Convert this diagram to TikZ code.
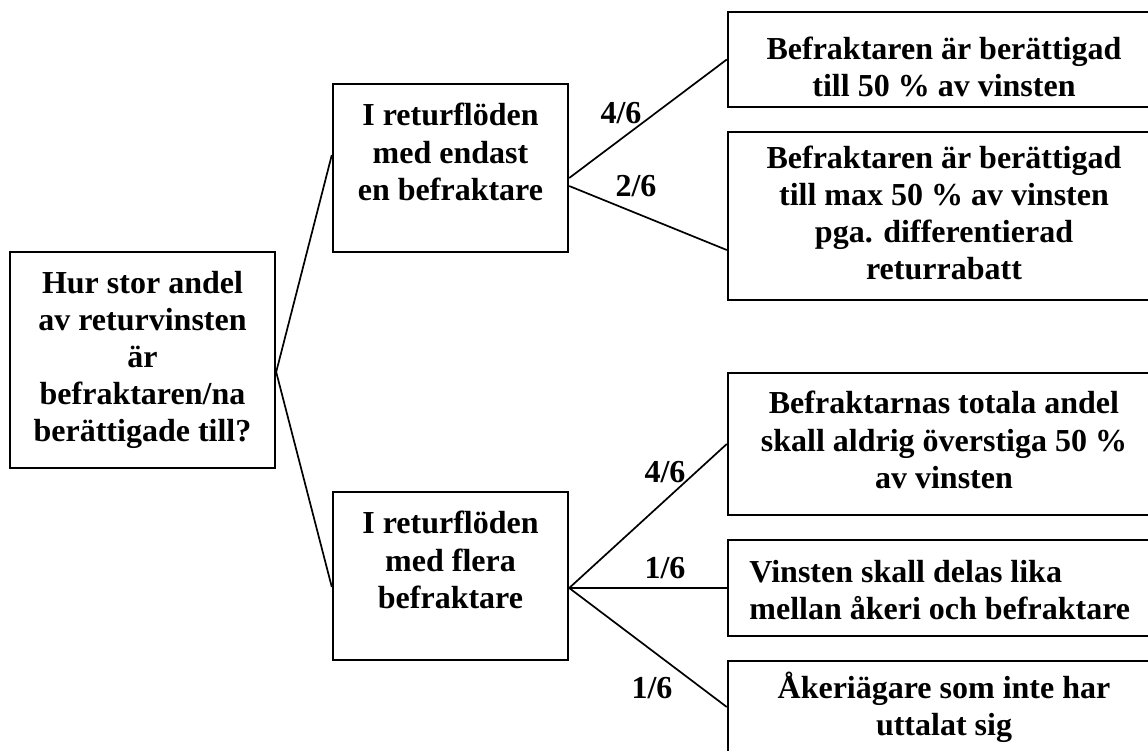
\documentclass[tikz,border=0pt]{standalone}
\usepackage{fontspec}
\setmainfont{Liberation Serif}
\usetikzlibrary{calc}
\begin{document}
\begin{tikzpicture}[x=0.5pt,y=-0.5pt,
  box/.style={draw,line width=1.2pt,rectangle,inner sep=0pt},
  txt/.style={font=\fontsize{16}{18.6}\selectfont\bfseries,align=center,inner sep=0pt},
  lab/.style={font=\fontsize{16}{18.6}\selectfont\bfseries,inner sep=0pt},
  conn/.style={line width=0.85pt}]
\useasboundingbox (0,0) rectangle (1148,751);
\clip (0,0) rectangle (1148,751);
% boxes
\node[box,minimum width=265*0.5pt,minimum height=216*0.5pt] (root) at (142.5,360) {};
\node[box,minimum width=235*0.5pt,minimum height=168*0.5pt] (m1) at (450.5,168) {};
\node[box,minimum width=235*0.5pt,minimum height=168*0.5pt] (m2) at (450.5,576) {};
\node[box,minimum width=432*0.5pt,minimum height=95*0.5pt] (r1) at (944,59.5) {};
\node[box,minimum width=432*0.5pt,minimum height=168*0.5pt] (r2) at (944,216) {};
\node[box,minimum width=432*0.5pt,minimum height=142*0.5pt] (r3) at (944,444) {};
\node[box,minimum width=432*0.5pt,minimum height=96*0.5pt] (r4) at (944,588) {};
\node[box,minimum width=432*0.5pt,minimum height=109*0.5pt] (r5) at (944,715.5) {};
% texts
\node[txt] (troot) at (142.5,360) {Hur stor andel\\av returvinsten\\är\\befraktaren/na\\berättigade till?};
\node[txt] (tm1) at (450.5,152) {I returflöden\\med endast\\en befraktare};
\node[txt] (tm2) at (450.5,560) {I returflöden\\med flera\\befraktare};
\node[txt] (tr1) at (944,67) {Befraktaren är berättigad\\till 50 \% av vinsten};
\node[txt] (tr2) at (944,213) {Befraktaren är berättigad\\till max 50 \% av vinsten\\pga. differentierad\\returrabatt};
\node[txt] (tr3) at (944,440) {Befraktarnas totala andel\\skall aldrig överstiga 50 \%\\av vinsten};
\node[txt,align=left,anchor=west] (tr4) at (749,590) {Vinsten skall delas lika\\mellan åkeri och befraktare};
\node[txt] (tr5) at (944,707) {Åkeriägare som inte har\\uttalat sig};
% connectors
\coordinate (rootE) at ($(root.east)+(0,12)$);
\draw[conn] (rootE) -- ($(m1.west)+(0,-13)$);
\draw[conn] (rootE) -- ($(m2.west)+(0,11)$);
\draw[conn] ($(m1.east)+(0,10)$) -- (r1.west);
\draw[conn] ($(m1.east)+(0,18)$) -- ($(r2.west)+(0,34)$);
\coordinate (m2E) at ($(m2.east)+(0,12)$);
\draw[conn] (m2E) -- (r3.west);
\draw[conn] (m2E) -- (r4.west);
\draw[conn] (m2E) -- ($(r5.west)+(0,-8.5)$);
% labels
\node[lab] (l1) at (621,113) {4/6};
\node[lab] (l2) at (636,186) {2/6};
\node[lab] (l3) at (665,472) {4/6};
\node[lab] (l4) at (665,568) {1/6};
\node[lab] (l5) at (652,688) {1/6};
\end{tikzpicture}
\end{document}
